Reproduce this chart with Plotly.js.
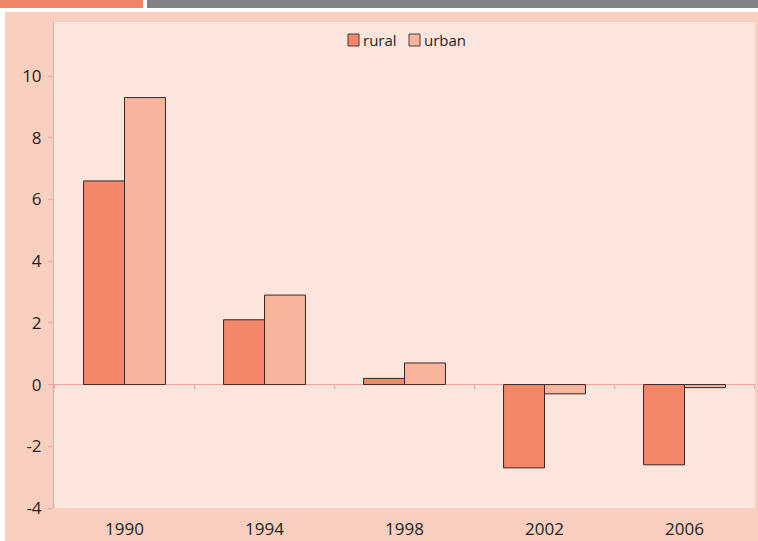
<!DOCTYPE html>
<html><head><meta charset="utf-8">
<script src="https://cdn.plot.ly/plotly-3.0.1.min.js"></script>
<style>
body{margin:0;background:#fff;width:758px;height:541px;position:relative;overflow:hidden;}
#s1{position:absolute;left:0;top:0;width:143px;height:8px;background:#EF8468;}
#s2{position:absolute;left:147px;top:0;width:611px;height:8px;background:#808184;}
#chart{position:absolute;left:5px;top:12px;width:753px;height:529px;}
</style></head><body>
<div id="s1"></div><div id="s2"></div>
<div id="chart"></div>
<script>
const years = ['1990','1994','1998','2002','2006'];
const rural = [6.6, 2.1, 0.2, -2.7, -2.6];
const urban = [9.3, 2.9, 0.7, -0.3, -0.1];
const yTicks = [-4,-2,0,2,4,6,8,10];
const seriesNames = ['rural','urban'];
const seriesColors = ['#F4876A','#F9B59B'];

const line = {color:'#3a2626', width:1};
const traces = [
  {type:'bar', name:seriesNames[0], x:years, y:rural, marker:{color:seriesColors[0], line:line}},
  {type:'bar', name:seriesNames[1], x:years, y:urban, marker:{color:seriesColors[1], line:line}}
];
const shapes = [];
for (let i = 0; i <= years.length; i++) {
  shapes.push({type:'line', xref:'x', yref:'y', x0:i-0.5, x1:i-0.5, y0:0, y1:-0.15, line:{color:'#F4A0A0', width:1}});
}
// custom legend (plot area: x 54..755, y 22..508 in page px)
const PW = 701, PH = 486;
const px = v => (v - 54) / PW;
const py = v => (508 - v) / PH;
const legendX = [348, 409];
const annotations = [];
seriesNames.forEach((n, i) => {
  const x0 = legendX[i];
  shapes.push({type:'rect', xref:'paper', yref:'paper', x0:px(x0), x1:px(x0+11), y0:py(46), y1:py(34),
    fillcolor:seriesColors[i], line:{color:'#4a3a3a', width:1}});
  annotations.push({xref:'paper', yref:'paper', x:px(x0+13), y:py(40), xanchor:'left', yanchor:'middle',
    text:n, showarrow:false, font:{size:15, color:'#231f20'}});
});
const layout = {
  width:753, height:529,
  margin:{l:49, r:3, t:10, b:33},
  paper_bgcolor:'#F9D0C0', plot_bgcolor:'#FCE5DC',
  font:{family:'Open Sans, sans-serif', size:17, color:'#231f20'},
  barmode:'group', bargap:0.415, bargroupgap:0,
  showlegend:false,
  xaxis:{type:'category', showgrid:false, showline:false, ticks:'', tickfont:{size:17}, ticklabelstandoff:9},
  yaxis:{range:[-4, 11.75], tickvals:yTicks, ticktext:yTicks.map(String), showgrid:false, zeroline:true, zerolinecolor:'#F4A0A0', zerolinewidth:1, showline:true, linecolor:'#F4A0A0', linewidth:1, ticks:'outside', ticklen:5, tickcolor:'#F4A0A0', tickfont:{size:17}, ticklabelstandoff:3},
  shapes:shapes, annotations:annotations
};
Plotly.newPlot('chart', traces, layout, {displayModeBar:false, staticPlot:true});
</script></body></html>
